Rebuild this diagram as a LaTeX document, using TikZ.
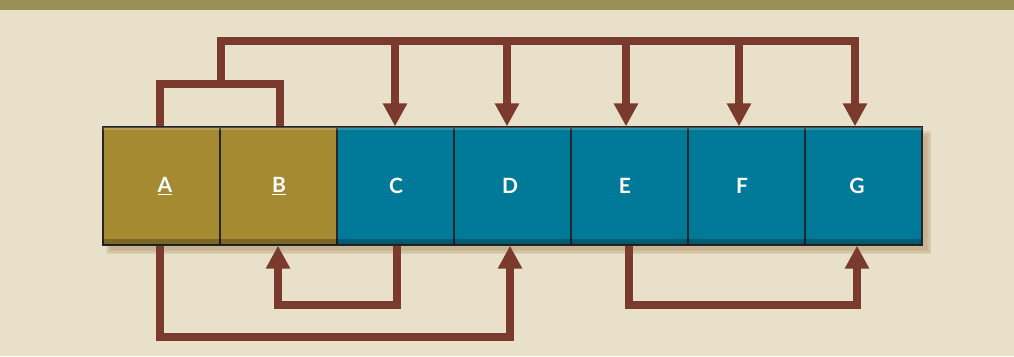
\documentclass[tikz,border=0pt]{standalone}
\usepackage{fontspec}
\setmainfont{Lato}
\usetikzlibrary{arrows.meta,calc}
\definecolor{bgc}{HTML}{E8E0C8}
\definecolor{bandc}{HTML}{9A8F56}
\definecolor{olivec}{HTML}{A68A32}
\definecolor{tealc}{HTML}{007A98}
\definecolor{arrowc}{HTML}{7B3A2E}
\definecolor{shadc}{HTML}{B8A07A}
\newcommand{\shiftlab}[2]{\kern#1pt\relax#2}
\tikzset{
  cell/.style={minimum width=117pt,minimum height=118pt,inner sep=0pt,draw=black!85,line width=1.3pt,text=white,font=\fontsize{21}{24}\selectfont\bfseries},
  olivecell/.style={cell,fill=olivec},
  tealcell/.style={cell,fill=tealc},
  conn/.style={draw=arrowc,line width=8pt,line join=miter},
  tipped/.style={conn,-{Triangle[width=23pt,length=23pt]}}
}
\begin{document}
\begin{tikzpicture}[x=1pt,y=-1pt]
\useasboundingbox (0,0) rectangle (1014,356);
\fill[bgc] (0,0) rectangle (1014,356);
\fill[bandc] (0,0) rectangle (1014,9.5);
% soft shadow
\foreach \d/\o in {0/0.25,1.5/0.25,3/0.25,4.5/0.25}{
  \fill[shadc,opacity=\o] (106+\d,131+\d) rectangle (931-\d,254-\d);
}
\node[olivecell] (A) at (161.5,186) {\shiftlab{7}{\underline{A}}};
\node[olivecell] (B) at (278.5,186) {\shiftlab{1}{\underline{B}}};
\node[tealcell] (C) at (395.5,186) {\shiftlab{1}{C}};
\node[tealcell] (D) at (512.5,186) {\shiftlab{-5}{D}};
\node[tealcell] (E) at (629.5,186) {\shiftlab{-9}{E}};
\node[tealcell] (F) at (746.5,186) {\shiftlab{-9}{F}};
\node[tealcell] (G) at (863.5,186) {\shiftlab{-13}{G}};
% bevel
\foreach \n in {A,B,C,D,E,F,G}{
  \fill[white,opacity=0.18] ([xshift=1pt,yshift=-1pt]\n.north west) rectangle ([xshift=-1pt,yshift=-4pt]\n.north east);
  \fill[black,opacity=0.25] ([xshift=1pt,yshift=1pt]\n.south west) rectangle ([xshift=-1pt,yshift=7pt]\n.south east);
}
% ports
\coordinate (Aout) at ([xshift=-1.5pt]A.north);
\coordinate (Bout) at ([xshift=1.5pt]B.north);
\coordinate (Cin) at ([xshift=-0.5pt]C.north);
\coordinate (Din) at ([xshift=-5.5pt]D.north);
\coordinate (Ein) at ([xshift=-3.5pt]E.north);
\coordinate (Fin) at ([xshift=-7.5pt]F.north);
\coordinate (Gin) at ([xshift=-8.5pt]G.north);
\coordinate (ab) at (221,84);
\coordinate (top) at (221,40.5);
% top connectors
\draw[conn] (Aout) |- (ab) -| (Bout);
\draw[tipped] (ab) -- (top) -| (Gin);
\draw[tipped] (Cin |- top) -- (Cin);
\draw[tipped] (Din |- top) -- (Din);
\draw[tipped] (Ein |- top) -- (Ein);
\draw[tipped] (Fin |- top) -- (Fin);
% bottom connectors
\draw[tipped] ([xshift=1.5pt]C.south) -- ++(0,59) -| ([xshift=-0.5pt]B.south);
\draw[tipped] ([xshift=-1.5pt]A.south) -- ++(0,91) -| ([xshift=-2.5pt]D.south);
\draw[tipped] ([xshift=-0.5pt]E.south) -- ++(0,59) -| ([xshift=-6.5pt]G.south);
\end{tikzpicture}
\end{document}
